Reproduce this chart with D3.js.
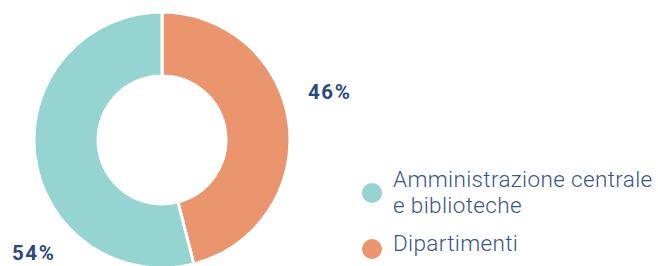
<!DOCTYPE html>
<html><head><meta charset="utf-8">
<script src="https://cdn.jsdelivr.net/npm/d3@7"></script>
<style>body{margin:0;background:#fff}svg{display:block}</style>
</head><body>
<svg id="c" width="658" height="266"></svg>
<script>
const categories = ["Dipartimenti", "Amministrazione centrale e biblioteche"];
const values = [46, 54];
const labels = ["46%", "54%"];
const legendLines = [["Amministrazione centrale", "e biblioteche"], ["Dipartimenti"]];
const colors = ["#eb956f", "#95d4d0"];

const svg = d3.select("#c");
const cx = 162, cy = 140, R = 128, r = 64;
const pie = d3.pie().sort(null).value(d => d)(values);
const arc = d3.arc().innerRadius(r).outerRadius(R);
const g = svg.append("g").attr("transform", `translate(${cx},${cy})`);
g.selectAll("path").data(pie).join("path")
  .attr("d", arc).attr("fill", (d, i) => colors[i])
  .attr("stroke", "#fff").attr("stroke-width", 3);

const textColor = "#2b4a7c";
const labelPos = [[308, 99], [12, 260]];
svg.selectAll("text.pct").data(labels).join("text").attr("class", "pct")
  .attr("x", (d, i) => labelPos[i][0]).attr("y", (d, i) => labelPos[i][1])
  .attr("font-family", "Roboto, sans-serif").attr("font-weight", 700)
  .attr("font-size", 20.5).attr("letter-spacing", 1.6).attr("fill", textColor).text(d => d);

const legend = [
  { color: colors[1], lines: legendLines[0], cy: 193, y0: 187 },
  { color: colors[0], lines: legendLines[1], cy: 249, y0: 251 }
];
legend.forEach(l => {
  svg.append("circle").attr("cx", 372).attr("cy", l.cy).attr("r", 10).attr("fill", l.color);
  const t = svg.append("text").attr("x", 393).attr("y", l.y0)
    .attr("font-family", "Roboto, sans-serif").attr("font-weight", 300)
    .attr("font-size", 22.5).attr("fill", "#3a5585").attr("letter-spacing", 0.35);
  l.lines.forEach((s, i) => t.append("tspan").attr("x", 393).attr("dy", i ? 26 : 0).text(s));
});
</script>
</body></html>
